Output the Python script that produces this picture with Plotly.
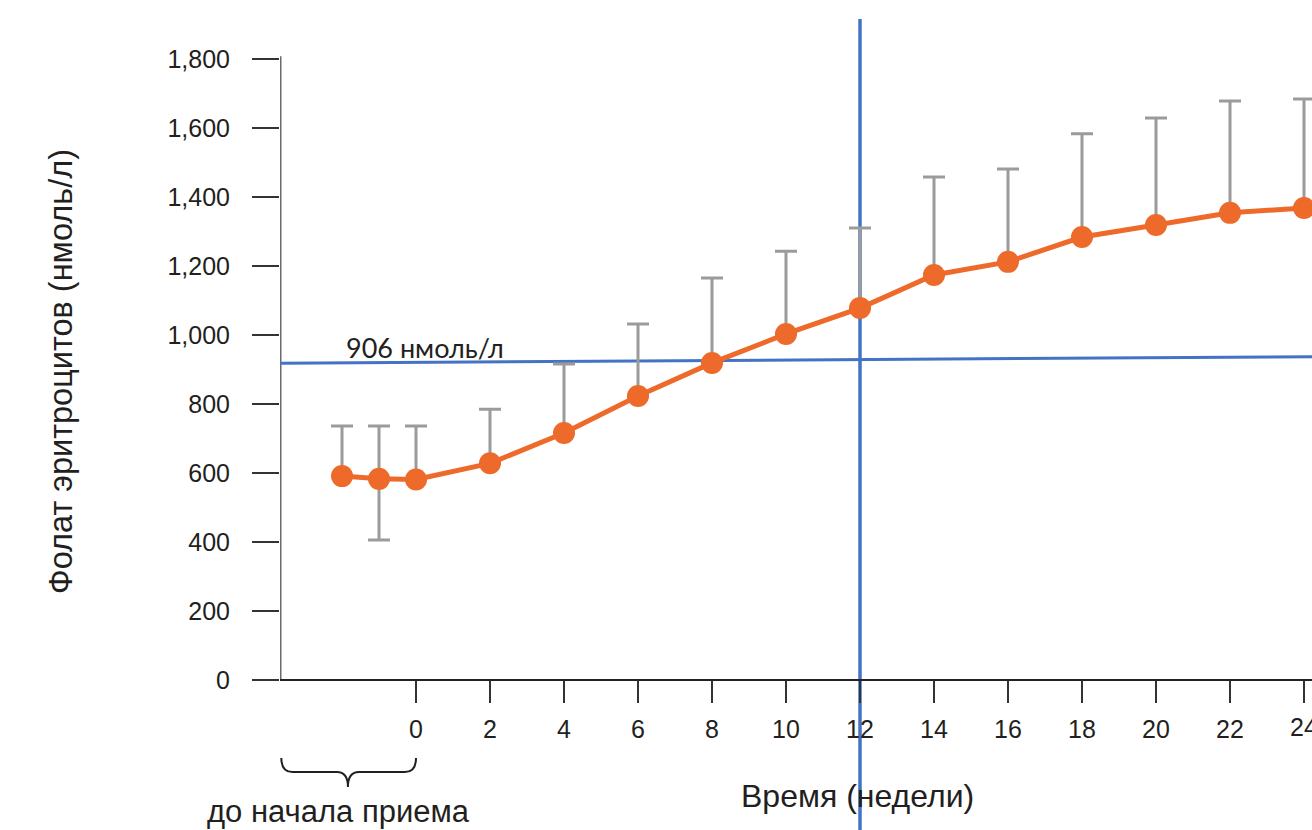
import plotly.graph_objects as go

# ---- data ----
weeks = [-2, -1, 0, 2, 4, 6, 8, 10, 12, 14, 16, 18, 20, 22, 24]
folate = [591, 583, 581, 628, 716, 823, 919, 1003, 1078, 1174, 1212, 1284, 1319, 1354, 1368]
err_upper = [736, 736, 736, 785, 916, 1032, 1165, 1243, 1310, 1458, 1481, 1583, 1629, 1678, 1684]
err_lower = [591, 406, 581, 628, 716, 823, 919, 1003, 1078, 1174, 1212, 1284, 1319, 1354, 1368]
x_tickvals = [0, 2, 4, 6, 8, 10, 12, 14, 16, 18, 20, 22, 24]
y_tickvals = [0, 200, 400, 600, 800, 1000, 1200, 1400, 1600, 1800]
ref_label = "906 нмоль/л"
ref_line_y = [918, 937]          # drawn reference line (start, end) as seen in the picture
marker_week = 12                  # vertical marker line
pre_weeks = [-3.64, 0]            # span of the "before intake" brace

# ---- styling ----
ORANGE = "#EE6A2B"
BLUE = "#4472C4"
GRAY = "#9B9B9B"
TXT = "#231F20"
FONT = "Liberation Sans, Arial, sans-serif"
TICK_SIZE = 25

x_range = [-3.676, 24.216]
y_range = [-434.8, 1915.9]

plus = [u - v for u, v in zip(err_upper, folate)]
minus = [v - l for v, l in zip(folate, err_lower)]

fig = go.Figure()
fig.add_trace(go.Scatter(
    x=weeks, y=folate, mode="lines+markers",
    line=dict(color=ORANGE, width=5),
    marker=dict(color=ORANGE, size=22, line=dict(width=0)),
    error_y=dict(type="data", symmetric=False, array=plus, arrayminus=minus,
                 color=GRAY, thickness=3, width=11),
    showlegend=False, hoverinfo="x+y",
))

shapes = []
# y axis line (0..1800 only)
shapes.append(dict(type="line", xref="x", yref="y", x0=x_range[0], x1=x_range[0],
                   y0=0, y1=y_tickvals[-1] + 8, line=dict(color="#6b6b6b", width=3), layer="below"))
# reference horizontal line
shapes.append(dict(type="line", xref="x", yref="y", x0=x_range[0], x1=x_range[1],
                   y0=ref_line_y[0], y1=ref_line_y[1], line=dict(color=BLUE, width=3), layer="below"))
# vertical line at week 12
shapes.append(dict(type="line", xref="x", yref="y", x0=marker_week, x1=marker_week,
                   y0=y_range[0], y1=y_range[1], line=dict(color=BLUE, width=3.5), layer="below"))
# curly brace under pre-intake weeks
xa, xb = pre_weeks
xc = -1.84
y0b, yh, yt = -226, -267, -310
d = 0.3
path = (f"M {xa},{y0b} Q {xa},{yh} {xa+d},{yh} L {xc-d},{yh} Q {xc},{yh} {xc},{yt} "
        f"Q {xc},{yh} {xc+d},{yh} L {xb-d},{yh} Q {xb},{yh} {xb},{y0b}")
shapes.append(dict(type="path", xref="x", yref="y", path=path,
                   line=dict(color=TXT, width=2)))

annotations = [
    dict(text=ref_label, xref="x", yref="y", x=0.24, y=965, showarrow=False,
         font=dict(family="Lato, sans-serif", size=27, color=TXT)),
    dict(text="до начала приема", xref="x", yref="y", x=-2.1, y=-381, showarrow=False,
         font=dict(family=FONT, size=31, color=TXT)),
    dict(text="Время (недели)", xref="x", yref="y", x=11.92, y=-336, showarrow=False,
         font=dict(family=FONT, size=32, color=TXT)),
    dict(text="Фолат эритроцитов (нмоль/л)", xref="paper", yref="paper",
         x=-0.2316, y=0.566, textangle=-90, showarrow=False,
         font=dict(family=FONT, size=32.5, color=TXT)),
    # last x tick label sits on the right edge (cut off in the original)
    dict(text=str(x_tickvals[-1]), xref="x", yref="y", x=x_tickvals[-1], y=-136,
         showarrow=False, xanchor="center",
         font=dict(family=FONT, size=TICK_SIZE, color=TXT)),
]

fig.update_layout(
    width=1312, height=830, autosize=False,
    margin=dict(l=280, r=0, t=19, b=0, pad=0),
    paper_bgcolor="white", plot_bgcolor="white",
    font=dict(family=FONT, color=TXT),
    shapes=shapes, annotations=annotations,
    xaxis=dict(range=x_range, tickvals=x_tickvals, ticks="outside", ticklen=22,
               tickwidth=1.5, tickcolor="#333333", showline=True, linecolor="#222222",
               linewidth=1.5, showgrid=False, zeroline=False,
               anchor="free", position=(0 - y_range[0]) / (y_range[1] - y_range[0]),
               tickfont=dict(size=TICK_SIZE, color=TXT, family=FONT), ticklabelstandoff=5),
    yaxis=dict(range=y_range, tickvals=y_tickvals, tickformat=",", ticks="outside",
               ticklen=27, tickwidth=1.5, tickcolor="#333333", showline=False,
               showgrid=False, zeroline=False,
               tickfont=dict(size=TICK_SIZE, color=TXT, family=FONT), ticklabelstandoff=17),
)

fig.write_html("out.html", config={"displayModeBar": False},
               post_script="document.body.style.margin='0';document.body.style.overflow='hidden';")
